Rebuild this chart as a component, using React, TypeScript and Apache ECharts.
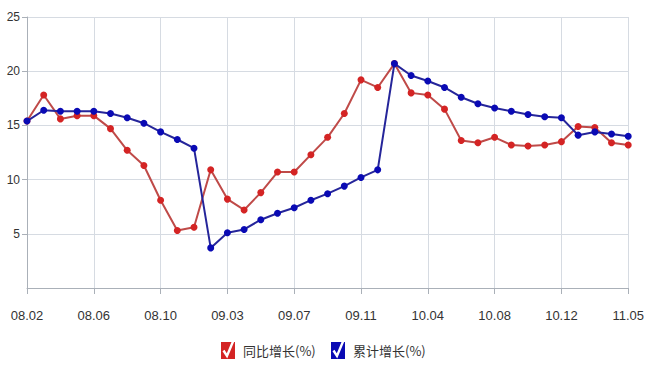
import React, { useEffect, useRef } from "react";
import * as echarts from "echarts";

// Reporting periods (Jan is merged into Feb, so each year starts at .02)
const periods: string[] = [
  "08.02", "08.03", "08.04", "08.05", "08.06", "08.07", "08.08", "08.09", "08.10", "08.11", "08.12",
  "09.02", "09.03", "09.04", "09.05", "09.06", "09.07", "09.08", "09.09", "09.10", "09.11", "09.12",
  "10.02", "10.03", "10.04", "10.05", "10.06", "10.07", "10.08", "10.09", "10.10", "10.11", "10.12",
  "11.02", "11.03", "11.04", "11.05",
];

// 同比增长 (%)
const yoyGrowth: number[] = [
  15.4, 17.8, 15.6, 15.9, 15.9, 14.7, 12.7, 11.3, 8.1, 5.3, 5.6,
  10.9, 8.2, 7.2, 8.8, 10.7, 10.7, 12.3, 13.9, 16.1, 19.2, 18.5,
  20.7, 18.0, 17.8, 16.5, 13.6, 13.4, 13.9, 13.2, 13.1, 13.2, 13.5,
  14.9, 14.8, 13.4, 13.2,
];

// 累计增长 (%)
const cumulativeGrowth: number[] = [
  15.4, 16.4, 16.3, 16.3, 16.3, 16.1, 15.7, 15.2, 14.4, 13.7, 12.9,
  3.7, 5.1, 5.4, 6.3, 6.9, 7.4, 8.1, 8.7, 9.4, 10.2, 10.9,
  20.7, 19.6, 19.1, 18.5, 17.6, 17.0, 16.6, 16.3, 16.0, 15.8, 15.7,
  14.1, 14.4, 14.2, 14.0,
];

const seriesNames: string[] = ["同比增长(%)", "累计增长(%)"];

const labelFont = "'Liberation Sans', Arial, sans-serif";

// Legend box geometry: one legend per series so each box has a fixed place
const LEGEND_LEFTS = [221, 331];
const LEGEND_TOP = 342;
const ICON_W = 14;
const ICON_H = 17;

function legendFor(i: number) {
  return {
    left: LEGEND_LEFTS[i],
    top: LEGEND_TOP,
    padding: 0,
    itemWidth: ICON_W,
    itemHeight: ICON_H,
    icon: "rect",
    itemStyle: { borderWidth: 0 },
    data: [seriesNames[i]],
    textStyle: {
      fontFamily: "'Noto Sans CJK SC', sans-serif",
      fontSize: 13,
      color: "#333",
      padding: [0, 0, 0, 3],
    },
  };
}

// White tick drawn over a legend box whose left edge is at x
function tick(x: number) {
  const y = LEGEND_TOP;
  return {
    type: "polyline",
    z: 100,
    silent: true,
    shape: {
      points: [
        [x + 2.5, y + 8.5],
        [x + 6, y + 14],
        [x + 12, y - 0.5],
      ],
    },
    style: { stroke: "#ffffff", lineWidth: 2.4, fill: null, lineJoin: "miter" },
  };
}

export default function App() {
  const ref = useRef<HTMLDivElement>(null);

  useEffect(() => {
    if (!ref.current) return;
    const chart = echarts.init(ref.current, undefined, { renderer: "svg" });
    chart.setOption({
      animation: false,
      backgroundColor: "#ffffff",
      grid: { left: 27, right: 17, top: 17, bottom: 86, containLabel: false },
      legend: [legendFor(0), legendFor(1)],
      graphic: LEGEND_LEFTS.map(tick),
      xAxis: {
        type: "category",
        data: periods,
        boundaryGap: false,
        axisLine: { show: true, lineStyle: { color: "#aab0b8", width: 1 } },
        axisTick: { show: true, interval: 3, length: 6, lineStyle: { color: "#aab0b8" } },
        axisLabel: {
          interval: 3,
          margin: 21,
          fontSize: 13,
          color: "#333",
          fontFamily: labelFont,
        },
        splitLine: { show: true, interval: 3, lineStyle: { color: "#d6dbe2", width: 1 } },
      },
      yAxis: {
        type: "value",
        min: 0,
        max: 25,
        interval: 5,
        axisLine: { show: true, lineStyle: { color: "#aab0b8" } },
        axisTick: { show: true, length: 5, lineStyle: { color: "#aab0b8" } },
        axisLabel: {
          margin: 7,
          fontSize: 12,
          color: "#333",
          fontFamily: labelFont,
          showMinLabel: false,
        },
        splitLine: { show: true, lineStyle: { color: "#d6dbe2", width: 1 } },
      },
      series: [
        {
          name: seriesNames[0],
          type: "line",
          data: yoyGrowth,
          symbol: "circle",
          symbolSize: 7,
          itemStyle: { color: "#d42424" },
          lineStyle: { color: "#bf4a48", width: 2 },
          z: 2,
        },
        {
          name: seriesNames[1],
          type: "line",
          data: cumulativeGrowth,
          symbol: "circle",
          symbolSize: 7,
          itemStyle: { color: "#0a0ab4" },
          lineStyle: { color: "#25259a", width: 2 },
          z: 3,
        },
      ],
    });
    return () => chart.dispose();
  }, []);

  return (
    <div
      ref={ref}
      style={{ position: "fixed", left: 0, top: 0, width: 647, height: 374 }}
    />
  );
}
